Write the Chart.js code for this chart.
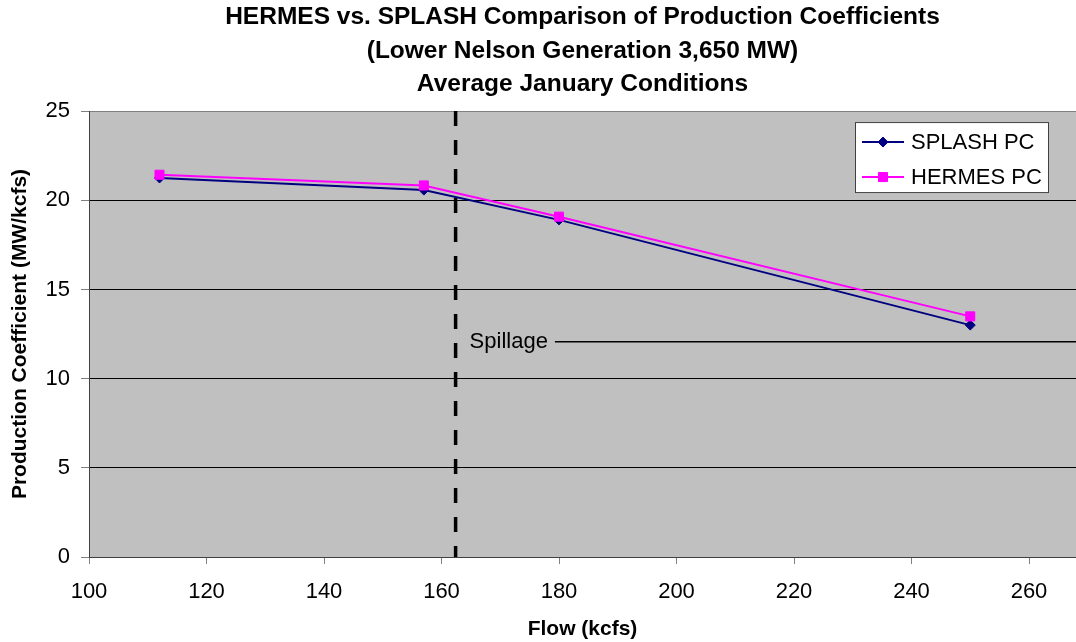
<!DOCTYPE html>
<html>
<head>
<meta charset="utf-8">
<title>HERMES vs. SPLASH Production Coefficients</title>
<script src="https://cdn.jsdelivr.net/npm/chart.js@4.4.0/dist/chart.umd.min.js"></script>
<style>
  html, body { margin: 0; padding: 0; background: #fff; }
  #wrap { width: 1076px; height: 642px; }
</style>
</head>
<body>
<div id="wrap"><canvas id="pc-chart" width="1076" height="642"></canvas></div>
<script>
/*************************  Data  *************************/
var flowKcfs = [112, 157, 180, 250];
var splashPC = [21.25, 20.57, 18.9, 13.0];
var hermesPC = [21.43, 20.83, 19.08, 13.49];
var xTicks = [100, 120, 140, 160, 180, 200, 220, 240, 260];
var yTicks = [0, 5, 10, 15, 20, 25];
var spillFlow = 162.4;        // dashed vertical marker
var spillLevel = 12.07;       // "Spillage" reference level
var spillLineFrom = 179.3;    // where the spillage line starts
var xMin = 100, xMax = 268, yMin = 0, yMax = 25;

/*************************  Helpers  *************************/
function toPoints(xs, ys) {
    var pts = [];
    for (var i = 0; i < xs.length; i++) {
        pts.push({x: xs[i], y: ys[i]});
    }
    return pts;
}

function drawMarker(ctx, style, r, x, y, color) {
    ctx.save();
    ctx.fillStyle = color;
    ctx.strokeStyle = color;
    ctx.lineWidth = 1;
    ctx.beginPath();
    if (style === 'rectRot') {
        ctx.moveTo(x - r, y);
        ctx.lineTo(x, y - r);
        ctx.lineTo(x + r, y);
        ctx.lineTo(x, y + r);
        ctx.closePath();
    } else {
        var s = Math.SQRT1_2 * r;
        ctx.rect(x - s, y - s, 2 * s, 2 * s);
    }
    ctx.fill();
    ctx.stroke();
    ctx.restore();
}

/*************************  Plugins  *************************/
// grey plot area like the spreadsheet original
var plotBackground = {
    id: 'plotBackground',
    beforeDraw: function(chart) {
        var a = chart.chartArea, ctx = chart.ctx;
        ctx.save();
        ctx.fillStyle = '#C0C0C0';
        ctx.fillRect(a.left, a.top, a.right - a.left, a.bottom - a.top);
        ctx.restore();
    }
};

// "Spillage" text at the left end of the spillage line
var spillLabel = {
    id: 'spillLabel',
    afterDatasetsDraw: function(chart) {
        var ctx = chart.ctx;
        var x = chart.scales.x.getPixelForValue(spillLineFrom) - 7;
        var y = chart.scales.y.getPixelForValue(spillLevel);
        ctx.save();
        ctx.font = '22px "Liberation Sans", Arial, sans-serif';
        ctx.fillStyle = '#000';
        ctx.textAlign = 'right';
        ctx.textBaseline = 'middle';
        ctx.fillText('Spillage', x, y);
        ctx.restore();
    }
};

// boxed legend inside the plot, top right
var boxLegend = {
    id: 'boxLegend',
    afterDraw: function(chart) {
        var a = chart.chartArea, ctx = chart.ctx;
        var w = 194, h = 71;
        var x0 = a.right - 27 - w, y0 = a.top + 11;
        ctx.save();
        ctx.fillStyle = '#fff';
        ctx.fillRect(x0, y0, w, h);
        ctx.strokeStyle = '#404040';
        ctx.lineWidth = 1;
        ctx.strokeRect(x0 + 0.5, y0 + 0.5, w - 1, h - 1);
        var rows = [0, 1];
        for (var i = 0; i < rows.length; i++) {
            var ds = chart.data.datasets[rows[i]];
            var ry = y0 + 20 + i * 35;
            ctx.strokeStyle = ds.borderColor;
            ctx.lineWidth = 2;
            ctx.beginPath();
            ctx.moveTo(x0 + 7, ry);
            ctx.lineTo(x0 + 49, ry);
            ctx.stroke();
            drawMarker(ctx, ds.pointStyle, ds.pointRadius, x0 + 28, ry, ds.borderColor);
            ctx.fillStyle = '#000';
            ctx.font = '22px "Liberation Sans", Arial, sans-serif';
            ctx.textAlign = 'left';
            ctx.textBaseline = 'middle';
            ctx.fillText(ds.label, x0 + 56, ry + 1);
        }
        ctx.restore();
    }
};

/*************************  Chart  *************************/
Chart.defaults.font.family = '"Liberation Sans", Arial, sans-serif';
Chart.defaults.color = '#000';

var ctx = document.getElementById('pc-chart');
var pcChart = new Chart(ctx, {
    type: 'line',
    data: {
        datasets: [
            {
                label: 'SPLASH PC',
                data: toPoints(flowKcfs, splashPC),
                borderColor: '#000080',
                backgroundColor: '#000080',
                borderWidth: 2,
                pointStyle: 'rectRot',
                pointRadius: 5,
                pointBorderWidth: 1,
                tension: 0,
                order: 3
            },
            {
                label: 'HERMES PC',
                data: toPoints(flowKcfs, hermesPC),
                borderColor: '#FF00FF',
                backgroundColor: '#FF00FF',
                borderWidth: 2,
                pointStyle: 'rect',
                pointRadius: 6.4,
                pointBorderWidth: 1,
                tension: 0,
                order: 2
            },
            {
                label: 'spill flow',
                data: [{x: spillFlow, y: yMax}, {x: spillFlow, y: yMin}],
                borderColor: '#000',
                borderWidth: 3.5,
                borderDash: [15, 14],
                pointRadius: 0,
                order: 1
            },
            {
                label: 'spill level',
                data: [{x: spillLineFrom, y: spillLevel}, {x: xMax, y: spillLevel}],
                borderColor: '#000',
                borderWidth: 1.5,
                pointRadius: 0,
                order: 1
            }
        ]
    },
    options: {
        responsive: false,
        animation: false,
        devicePixelRatio: 1,
        layout: { padding: 0, autoPadding: false },
        plugins: {
            legend: { display: false },
            tooltip: { enabled: false },
            title: {
                display: true,
                fullSize: false,
                text: [
                    'HERMES vs. SPLASH Comparison of Production Coefficients',
                    '(Lower Nelson Generation 3,650 MW)',
                    'Average January Conditions'
                ],
                color: '#000',
                font: { size: 24.5, weight: 'bold', lineHeight: 1.375 },
                padding: { top: 0.5, bottom: 9.5 }
            }
        },
        scales: {
            x: {
                type: 'linear',
                min: xMin,
                max: xMax,
                afterBuildTicks: function(scale) {
                    scale.ticks = xTicks.map(function(v) { return {value: v}; });
                },
                afterFit: function(scale) {
                    scale.height = 85;
                    scale.paddingLeft = 0;
                    scale.paddingRight = 0;
                },
                grid: {
                    drawOnChartArea: false,
                    tickLength: 7,
                    tickColor: '#808080',
                    color: '#808080'
                },
                border: { color: '#404040', width: 1 },
                ticks: {
                    font: { size: 22 },
                    color: '#000',
                    padding: 15,
                    maxRotation: 0,
                    autoSkip: false
                },
                title: {
                    display: true,
                    text: 'Flow (kcfs)',
                    color: '#000',
                    font: { size: 21, weight: 'bold' },
                    padding: { top: 0, bottom: 0 }
                }
            },
            y: {
                min: yMin,
                max: yMax,
                afterBuildTicks: function(scale) {
                    scale.ticks = yTicks.map(function(v) { return {value: v}; });
                },
                afterFit: function(scale) {
                    scale.width = 89;
                    scale.paddingTop = 0;
                    scale.paddingBottom = 0;
                },
                grid: {
                    color: function(c) { return c.tick && c.tick.value === yMax ? '#808080' : '#000'; },
                    tickColor: '#808080',
                    tickLength: 8,
                    lineWidth: 1
                },
                border: { color: '#404040', width: 1 },
                ticks: {
                    font: { size: 22 },
                    color: '#000',
                    padding: 11
                },
                title: {
                    display: true,
                    text: 'Production Coefficient (MW/kcfs)',
                    color: '#000',
                    font: { size: 21, weight: 'bold' },
                    padding: { top: 8, bottom: 0 }
                }
            }
        }
    },
    plugins: [plotBackground, spillLabel, boxLegend]
});
</script>
</body>
</html>
